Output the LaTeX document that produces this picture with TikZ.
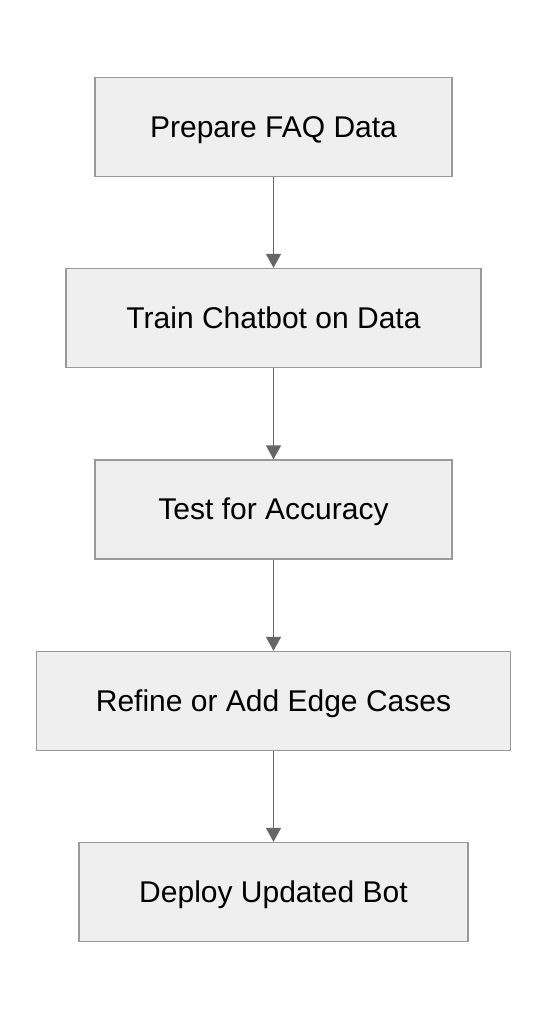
\documentclass[tikz,border=0pt]{standalone}
\usepackage{fontspec}
\setmainfont{Liberation Sans}
\usetikzlibrary{arrows.meta}
\definecolor{boxfill}{HTML}{EFEFEF}
\definecolor{boxline}{HTML}{999999}
\definecolor{arrowcol}{HTML}{666666}
\tikzset{
  stepbox/.style={draw=boxline, fill=boxfill, line width=1.3pt, minimum height=99pt, inner sep=0pt, text height=22pt, text depth=2pt, font=\fontsize{30}{34}\selectfont, text=black, anchor=center},
  flowarrow/.style={draw=arrowcol, line width=1.4pt, -{Triangle[length=14pt,width=15pt]}}
}
\begin{document}
\begin{tikzpicture}[x=1pt,y=-1pt]
\useasboundingbox (0,0) rectangle (548,1020);
\node[stepbox, minimum width=357pt] (a) at (273.5,127) {Prepare FAQ Data};
\node[stepbox, minimum width=415pt] (b) at (273.5,318) {Train Chatbot on Data};
\node[stepbox, minimum width=357pt] (c) at (273.5,509.5) {Test for Accuracy};
\node[stepbox, minimum width=474pt] (d) at (273.5,701) {Refine or Add Edge Cases};
\node[stepbox, minimum width=389pt] (e) at (273.5,892) {Deploy Updated Bot};
\draw[flowarrow] (a.south) -- (b.north);
\draw[flowarrow] (b.south) -- (c.north);
\draw[flowarrow] (c.south) -- (d.north);
\draw[flowarrow] (d.south) -- (e.north);
\end{tikzpicture}
\end{document}
